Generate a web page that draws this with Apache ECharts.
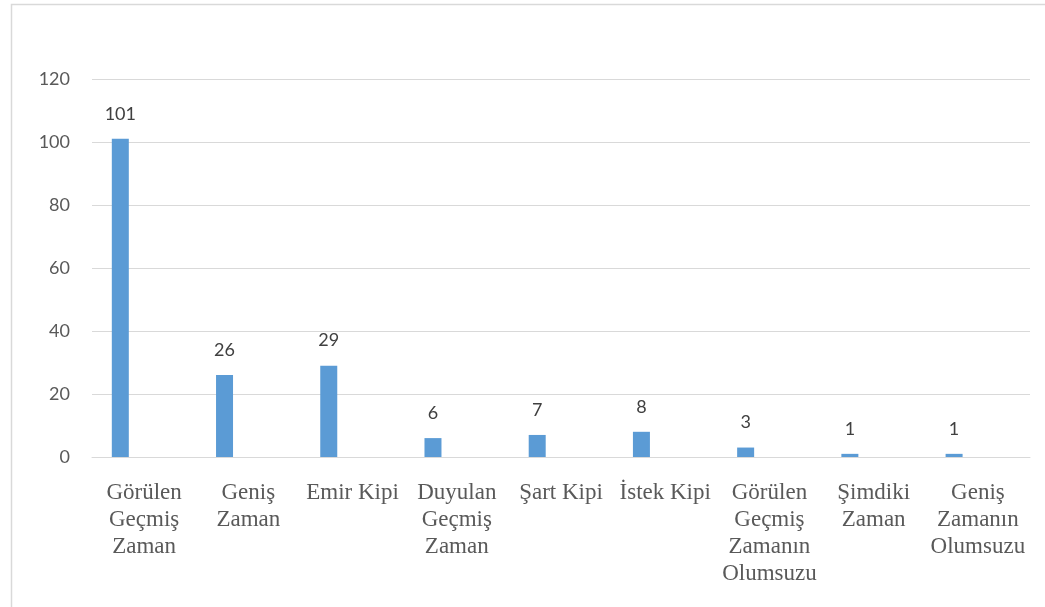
<!DOCTYPE html>
<html>
<head>
<meta charset="utf-8">
<script src="https://cdn.jsdelivr.net/npm/echarts@6/dist/echarts.min.js"></script>
<style>html,body{margin:0;padding:0;background:#fff;}#c{width:1045px;height:607px;}</style>
</head>
<body>
<div id="c"></div>
<script>
const categories = [
  "Görülen\nGeçmiş\nZaman",
  "Geniş\nZaman",
  "Emir Kipi",
  "Duyulan\nGeçmiş\nZaman",
  "Şart Kipi",
  "İstek Kipi",
  "Görülen\nGeçmiş\nZamanın\nOlumsuzu",
  "Şimdiki\nZaman",
  "Geniş\nZamanın\nOlumsuzu"
];
const values = [101, 26, 29, 6, 7, 8, 3, 1, 1];
const emptySeries = ['-', '-', '-', '-', '-', '-', '-', '-', '-'];
const yTicks = { min: 0, max: 120, interval: 20 };

const chart = echarts.init(document.getElementById('c'), null, { renderer: 'canvas' });
chart.setOption({
  animation: false,
  backgroundColor: '#fff',
  graphic: [{
    type: 'rect',
    shape: { x: 11.5, y: 4.5, width: 1100, height: 700 },
    style: { fill: 'none', stroke: '#d9d9d9', lineWidth: 1.5 },
    silent: true
  }],
  grid: { left: 92, right: 15, top: 79, bottom: 150 },
  xAxis: {
    type: 'category',
    data: categories,
    axisLine: { show: true, lineStyle: { color: '#d9d9d9', width: 1 } },
    axisTick: { show: false },
    axisLabel: {
      interval: 0,
      margin: 22,
      color: '#595959',
      fontFamily: 'Liberation Serif',
      fontSize: 23,
      lineHeight: 27
    }
  },
  yAxis: {
    type: 'value',
    min: yTicks.min, max: yTicks.max, interval: yTicks.interval,
    axisLine: { show: false },
    axisTick: { show: false },
    splitLine: { lineStyle: { color: '#d9d9d9', width: 1 } },
    axisLabel: { color: '#595959', fontFamily: 'Lato', fontSize: 18, margin: 22 }
  },
  series: [
    {
      type: 'bar',
      data: values,
      barWidth: 17,
      barGap: '180%',
      itemStyle: { color: '#5b9bd5' },
      label: {
        show: true,
        position: 'top',
        distance: 16,
        color: '#404040',
        fontFamily: 'Lato',
        fontSize: 18
      }
    },
    {
      type: 'bar',
      data: emptySeries,
      barWidth: 17,
      itemStyle: { color: '#ed7d31' }
    }
  ]
});
</script>
</body>
</html>
